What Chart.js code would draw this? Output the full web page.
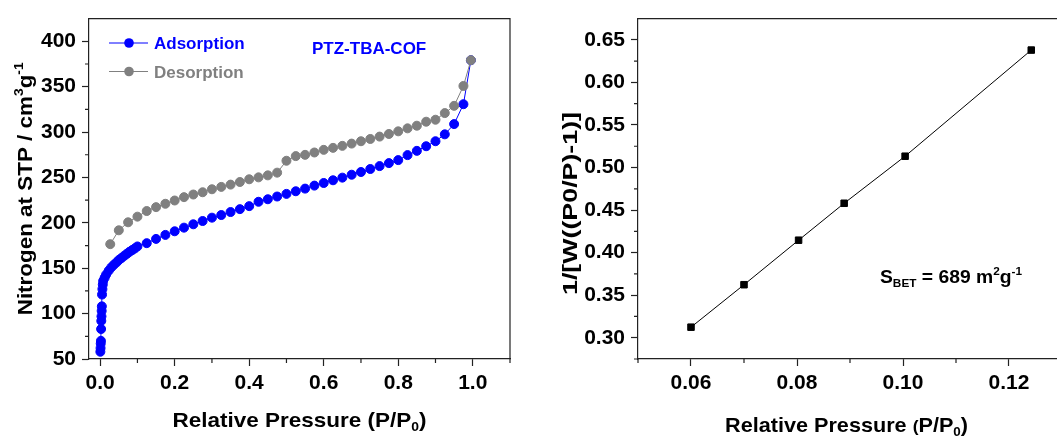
<!DOCTYPE html>
<html>
<head>
<meta charset="utf-8">
<script src="https://cdn.jsdelivr.net/npm/chart.js@4.4.0/dist/chart.umd.min.js"></script>
<style>
  html, body { margin: 0; padding: 0; background: #fff; overflow: hidden; }
  #wrap { position: relative; width: 1057px; height: 437px; overflow: hidden; }
  #iso { position: absolute; left: 0; top: 0; }
  #bet { position: absolute; left: 530px; top: 0; }
</style>
</head>
<body>
<div id="wrap">
  <canvas id="iso" width="530" height="437" style="width:530px;height:437px"></canvas>
  <canvas id="bet" width="560" height="437" style="width:560px;height:437px"></canvas>
</div>
<script>
// N2 isotherm, adsorption branch (P/P0, cm3/g STP)
const adsP = [0.0005, 0.001, 0.0015, 0.002, 0.0025, 0.003, 0.0035, 0.004, 0.0045, 0.005,
  0.006, 0.007, 0.008, 0.012, 0.016, 0.023, 0.030, 0.037, 0.044, 0.050, 0.057, 0.065,
  0.072, 0.079, 0.086, 0.093, 0.100, 0.125, 0.150, 0.175, 0.200, 0.225, 0.250, 0.275,
  0.300, 0.325, 0.350, 0.375, 0.400, 0.425, 0.450, 0.475, 0.500, 0.525, 0.550, 0.575,
  0.600, 0.625, 0.650, 0.675, 0.700, 0.725, 0.750, 0.775, 0.800, 0.825, 0.850, 0.875,
  0.900, 0.925, 0.950, 0.975, 0.995];
const adsV = [58, 62, 67, 70, 83, 92, 97, 103, 108, 121,
  127, 132, 136, 139.5, 143, 147.4, 151, 153.9, 156.5, 159, 161.2, 163.8,
  166, 168.2, 170, 171.8, 174, 177.6, 182.3, 186.7, 190.7, 194.7, 198.4, 202,
  205.7, 208.6, 211.9, 215.1, 218.4, 223.2, 226, 229, 231.9, 234.8, 237.7, 241,
  243.9, 246.9, 249.8, 253, 256, 259.3, 262.5, 265.8, 269.1, 274.6, 279.3, 284.4,
  289.9, 297.5, 308.8, 330.7, 379.2];

// desorption branch
const desP = [0.995, 0.975, 0.950, 0.925, 0.900, 0.875, 0.850, 0.825, 0.800, 0.775,
  0.750, 0.725, 0.700, 0.675, 0.650, 0.625, 0.600, 0.575, 0.550, 0.525, 0.500, 0.475,
  0.450, 0.425, 0.400, 0.375, 0.350, 0.325, 0.300, 0.275, 0.250, 0.225, 0.200, 0.175,
  0.150, 0.125, 0.100, 0.075, 0.050, 0.027];
const desV = [379.2, 350.8, 328.9, 320.9, 313.6, 311.4, 307, 304.1, 300.8, 297.9,
  295, 292.4, 289.9, 287.3, 284.8, 282.6, 280.4, 277.5, 274.9, 273.5, 268.4, 255.3,
  252.3, 250.1, 248, 245, 242.1, 239.6, 237, 233.7, 231.2, 228.3, 224.6, 221,
  217.3, 213, 206.8, 200.6, 191.8, 176.5];

// BET plot
const betP = [0.0600, 0.0700, 0.0803, 0.0889, 0.1004, 0.1242];
const betY = [0.3124, 0.3623, 0.4146, 0.4580, 0.5133, 0.6380];

// ticks
const isoXTicks = [0, 0.2, 0.4, 0.6, 0.8, 1.0];
const isoXMinor = [0.1, 0.3, 0.5, 0.7, 0.9, 1.1];
const isoYTicks = [50, 100, 150, 200, 250, 300, 350, 400];
const isoYMinor = [75, 125, 175, 225, 275, 325, 375];
const betXTicks = [0.06, 0.08, 0.10, 0.12];
const betXMinor = [0.05, 0.07, 0.09, 0.11, 0.13];
const betYTicks = [0.30, 0.35, 0.40, 0.45, 0.50, 0.55, 0.60, 0.65];
const betYMinor = [0.275, 0.325, 0.375, 0.425, 0.475, 0.525, 0.575, 0.625];

const FONT = '"Liberation Sans", Arial, sans-serif';
const AXIS = '#222';

const pts = (xs, ys) => xs.map((x, i) => ({ x: x, y: ys[i] }));

// text with sub/superscripts; parts = [[text, kind]], kind '' | 'sup' | 'sub' | 'small'
// len: optional run length in px, the run is stretched along its direction to fit
function richText(ctx, parts, x, y, size, color, align, vertical, len) {
  const fontFor = k => 'bold ' + (k === 'sup' || k === 'sub' ? Math.round(size * 0.62) : k === 'small' ? Math.round(size * 0.8) : size) + 'px ' + FONT;
  ctx.save();
  ctx.translate(x, y);
  if (vertical) ctx.rotate(-Math.PI / 2);
  let total = 0;
  parts.forEach(([t, k]) => { ctx.font = fontFor(k); total += ctx.measureText(t).width; });
  const sx = len ? len / total : 1;
  if (align === 'center') ctx.translate(-total * sx / 2, 0);
  ctx.scale(sx, 1);
  let cx = 0;
  ctx.fillStyle = color;
  ctx.textBaseline = 'alphabetic';
  ctx.textAlign = 'left';
  parts.forEach(([t, k]) => {
    ctx.font = fontFor(k);
    const dy = k === 'sup' ? -size * 0.42 : k === 'sub' ? size * 0.2 : 0;
    ctx.fillText(t, cx, dy);
    cx += ctx.measureText(t).width;
  });
  ctx.restore();
}

// box frame, minor ticks and free text
const decor = {
  id: 'decor',
  afterDraw(chart, args, o) {
    const { ctx, chartArea: a, scales: { x, y } } = chart;
    ctx.save();
    ctx.strokeStyle = AXIS;
    ctx.lineWidth = 1.2;
    ctx.beginPath();
    ctx.moveTo(a.left, a.top);
    ctx.lineTo(a.right, a.top);
    ctx.lineTo(a.right, a.bottom);
    ctx.stroke();
    ctx.beginPath();
    o.xMinor.forEach(v => {
      const px = x.getPixelForValue(v);
      ctx.moveTo(px, a.bottom); ctx.lineTo(px, a.bottom + 4);
    });
    o.yMinor.forEach(v => {
      const py = y.getPixelForValue(v);
      ctx.moveTo(a.left, py); ctx.lineTo(a.left - 4, py);
    });
    ctx.stroke();
    ctx.restore();
    if (o.draw) o.draw(ctx, a);
  }
};

function axisX(min, max, ticks, fmt) {
  return {
    type: 'linear', min: min, max: max,
    afterBuildTicks: s => { s.ticks = ticks.map(v => ({ value: v })); },
    afterFit: s => { s.height = 78; },
    ticks: { callback: fmt, color: '#000', font: { family: FONT, size: 21, weight: 'bold' }, padding: 5, maxRotation: 0 },
    grid: { display: true, drawOnChartArea: false, drawTicks: true, tickLength: 7, tickColor: AXIS, tickWidth: 1.2 },
    border: { display: true, color: AXIS, width: 1.2 }
  };
}
function axisY(min, max, ticks, fmt, w) {
  return {
    type: 'linear', min: min, max: max,
    afterBuildTicks: s => { s.ticks = ticks.map(v => ({ value: v })); },
    afterFit: s => { s.width = w; },
    ticks: { callback: fmt, color: '#000', font: { family: FONT, size: 21, weight: 'bold' }, padding: 6 },
    grid: { display: true, drawOnChartArea: false, drawTicks: true, tickLength: 7, tickColor: AXIS, tickWidth: 1.2 },
    border: { display: true, color: AXIS, width: 1.2 }
  };
}

const common = {
  responsive: false,
  animation: false,
  events: [],
  plugins: { legend: { display: false }, tooltip: { enabled: false } }
};

new Chart(document.getElementById('iso'), {
  type: 'scatter',
  data: {
    datasets: [
      {
        label: 'Adsorption', data: pts(adsP, adsV), showLine: true, order: 1,
        borderColor: '#0000ff', borderWidth: 1, backgroundColor: '#0000ff',
        pointRadius: 4.5, pointBorderWidth: 1, pointBorderColor: '#0000ff'
      },
      {
        label: 'Desorption', data: pts(desP, desV), showLine: true, order: 0,
        borderColor: '#808080', borderWidth: 1, backgroundColor: '#808080',
        pointRadius: 4.5, pointBorderWidth: 1, pointBorderColor: '#808080'
      }
    ]
  },
  options: Object.assign({}, common, {
    layout: { padding: { top: 15, right: 20, left: 0, bottom: 0 } },
    scales: {
      x: axisX(-0.03, 1.1, isoXTicks, v => v.toFixed(1)),
      y: axisY(50, 425, isoYTicks, v => String(v), 89)
    },
    plugins: Object.assign({}, common.plugins, {
      decor: {
        xMinor: isoXMinor, yMinor: isoYMinor,
        draw(ctx, a) {
          // legend
          [['Adsorption', '#0000ff', 43], ['Desorption', '#808080', 71.5]].forEach(([t, c, yy]) => {
            ctx.save();
            ctx.strokeStyle = c; ctx.fillStyle = c; ctx.lineWidth = 1;
            ctx.beginPath(); ctx.moveTo(109, yy); ctx.lineTo(148, yy); ctx.stroke();
            ctx.beginPath(); ctx.arc(129, yy, 4.8, 0, Math.PI * 2); ctx.fill();
            ctx.font = 'bold 17px ' + FONT;
            ctx.textBaseline = 'alphabetic';
            ctx.fillText(t, 154, yy + 6.3);
            ctx.restore();
          });
          richText(ctx, [['PTZ-TBA-COF', '']], 312, 54, 17, '#0000ff', 'left');
          richText(ctx, [['Relative Pressure (P/P', ''], ['0', 'sub'], [')', '']],
            (a.left + a.right) / 2, 427, 21, '#000', 'center', false, 254);
          richText(ctx, [['Nitrogen at STP / cm', ''], ['3', 'sup'], ['g', ''], ['-1', 'sup']],
            32, (a.top + a.bottom) / 2, 21, '#000', 'center', true, 253);
        }
      }
    })
  }),
  plugins: [decor]
});

new Chart(document.getElementById('bet'), {
  type: 'scatter',
  data: {
    datasets: [{
      label: 'BET', data: pts(betP, betY), showLine: true,
      borderColor: '#000', borderWidth: 1, backgroundColor: '#000',
      pointStyle: 'rect', pointRadius: 4.6, pointBorderWidth: 1, pointBorderColor: '#000'
    }]
  },
  options: Object.assign({}, common, {
    layout: { padding: { top: 15, right: 28, left: 0, bottom: 0 } },
    scales: {
      x: axisX(0.05, 0.13, betXTicks, v => v.toFixed(2)),
      y: axisY(0.275, 0.675, betYTicks, v => v.toFixed(2), 108)
    },
    plugins: Object.assign({}, common.plugins, {
      decor: {
        xMinor: betXMinor, yMinor: betYMinor,
        draw(ctx, a) {
          richText(ctx, [['S', ''], ['BET', 'sub'], [' = 689 m', ''], ['2', 'sup'], ['g', ''], ['-1', 'sup']],
            350, 283, 18, '#000', 'left', false, 142);
          richText(ctx, [['Relative Pressure ', ''], ['(', 'small'], ['P/P', ''], ['0', 'sub'], [')', '']],
            316.5, 432, 21, '#000', 'center', false, 243);
          richText(ctx, [['1/[W((P0/P)-1)]', '']], 47, 203.5, 21, '#000', 'center', true, 183);
        }
      }
    })
  }),
  plugins: [decor]
});
</script>
</body>
</html>
